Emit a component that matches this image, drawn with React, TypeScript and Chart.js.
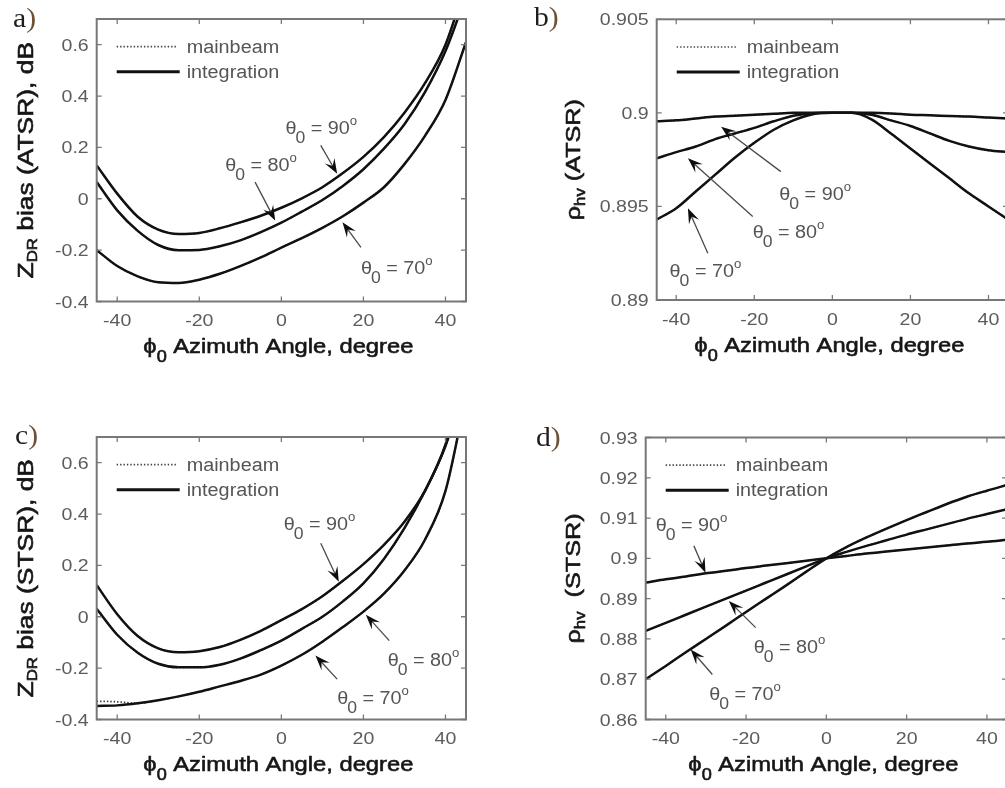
import React, { useEffect, useRef } from "react";
import { Chart, registerables } from "chart.js";

Chart.register(...registerables);

// Azimuth angles (degrees) at which every curve is sampled
const ANGLES = [-45, -40, -35, -30, -25, -20, -15, -10, -5, 0, 5, 10, 15, 20, 25, 30, 35, 40, 45];

// Axis ticks
const X_TICKS = [-40, -20, 0, 20, 40];
const X_TICK_LABELS = ["-40", "-20", "0", "20", "40"];
const ZDR_TICKS = [-0.4, -0.2, 0, 0.2, 0.4, 0.6];
const ZDR_TICK_LABELS = ["-0.4", "-0.2", "0", "0.2", "0.4", "0.6"];
const RHO_ATSR_TICKS = [0.89, 0.895, 0.9, 0.905];
const RHO_ATSR_TICK_LABELS = ["0.89", "0.895", "0.9", "0.905"];
const RHO_STSR_TICKS = [0.86, 0.87, 0.88, 0.89, 0.9, 0.91, 0.92, 0.93];
const RHO_STSR_TICK_LABELS = ["0.86", "0.87", "0.88", "0.89", "0.9", "0.91", "0.92", "0.93"];

// a) ZDR bias, ATSR mode (dB)
const ZDR_ATSR_90 = [0.13, 0.02, -0.07, -0.12, -0.137, -0.133, -0.115, -0.092, -0.066, -0.035, 0.002, 0.045, 0.1, 0.163, 0.24, 0.335, 0.45, 0.6, 0.84];
const ZDR_ATSR_80 = [0.065, -0.045, -0.125, -0.18, -0.2, -0.199, -0.185, -0.162, -0.13, -0.093, -0.05, -0.005, 0.05, 0.115, 0.195, 0.29, 0.415, 0.575, 0.79];
const ZDR_ATSR_70 = [-0.2, -0.262, -0.302, -0.325, -0.328, -0.315, -0.292, -0.262, -0.228, -0.19, -0.153, -0.113, -0.068, -0.015, 0.045, 0.135, 0.245, 0.385, 0.61];

// b) rho_hv, ATSR mode
const RHO_ATSR_90 = [0.89955, 0.8996, 0.8997, 0.8998, 0.89985, 0.8999, 0.89995, 0.9, 0.9, 0.9, 0.9, 0.9, 0.89997, 0.8999, 0.89987, 0.89983, 0.8998, 0.89975, 0.8997];
const RHO_ATSR_80 = [0.89757, 0.8979, 0.8982, 0.8986, 0.8989, 0.8992, 0.89955, 0.89985, 0.89998, 0.9, 0.9, 0.8999, 0.8996, 0.8993, 0.8989, 0.8985, 0.8982, 0.898, 0.8979];
const RHO_ATSR_70 = [0.8943, 0.8949, 0.8958, 0.8967, 0.8976, 0.8984, 0.8991, 0.8996, 0.89993, 0.9, 0.9, 0.89965, 0.8989, 0.8981, 0.8973, 0.8965, 0.8957, 0.895, 0.8943];

// c) ZDR bias, STSR mode (dB)
const ZDR_STSR_90 = [0.123, 0.01, -0.075, -0.123, -0.138, -0.134, -0.118, -0.09, -0.055, -0.013, 0.03, 0.08, 0.14, 0.205, 0.28, 0.37, 0.49, 0.67, 0.95];
const ZDR_STSR_80 = [0.031, -0.07, -0.14, -0.183, -0.197, -0.197, -0.187, -0.163, -0.13, -0.093, -0.047, 0.0, 0.06, 0.13, 0.225, 0.345, 0.49, 0.665, 0.92];
const ZDR_STSR_70 = [-0.347, -0.345, -0.337, -0.325, -0.31, -0.292, -0.271, -0.25, -0.225, -0.19, -0.148, -0.097, -0.04, 0.02, 0.09, 0.18, 0.3, 0.49, 0.86];
const ZDR_STSR_70_MAINBEAM = [-0.329, -0.331, -0.337, -0.325, -0.31, -0.292, -0.271, -0.25, -0.225, -0.19, -0.148, -0.097, -0.04, 0.02, 0.09, 0.18, 0.3, 0.49, 0.86];

// d) rho_hv, STSR mode
const RHO_STSR_90 = [0.894, 0.8948, 0.8955, 0.8963, 0.8969, 0.8976, 0.8982, 0.8988, 0.8994, 0.9, 0.9006, 0.9012, 0.9017, 0.9022, 0.9027, 0.9032, 0.9037, 0.9041, 0.9046];
const RHO_STSR_80 = [0.882, 0.884, 0.886, 0.888, 0.89, 0.892, 0.894, 0.896, 0.898, 0.9, 0.9016, 0.9031, 0.9045, 0.9059, 0.9072, 0.9085, 0.9098, 0.911, 0.9122];
const RHO_STSR_70 = [0.87, 0.8733, 0.8767, 0.88, 0.8833, 0.8867, 0.89, 0.8933, 0.8967, 0.9, 0.9028, 0.9052, 0.9074, 0.9095, 0.9115, 0.9135, 0.9153, 0.9168, 0.9182];

const SANS = '"Liberation Sans", Arial, sans-serif';
const SERIF = '"Liberation Serif", "Times New Roman", serif';

type Seg = { t: string; s: number; dy?: number; dx?: number };

// Draws a run of text pieces (with sub/superscripts), widened along the baseline
function drawSegs(
  ctx: CanvasRenderingContext2D,
  segs: Seg[],
  x: number,
  y: number,
  align: "left" | "center" | "right",
  stretch: number,
  color: string,
  family = SANS,
  weight = 0
) {
  ctx.save();
  ctx.fillStyle = color;
  ctx.strokeStyle = color;
  ctx.textAlign = "left";
  ctx.textBaseline = "alphabetic";
  const widths = segs.map((sg) => {
    ctx.font = `${sg.s}px ${family}`;
    return ctx.measureText(sg.t).width * stretch + (sg.dx || 0);
  });
  const total = widths.reduce((a, b) => a + b, 0);
  let cx = align === "left" ? x : align === "center" ? x - total / 2 : x - total;
  segs.forEach((sg, i) => {
    ctx.font = `${sg.s}px ${family}`;
    ctx.save();
    ctx.translate(cx + (sg.dx || 0), y + (sg.dy || 0));
    ctx.scale(stretch, 1);
    ctx.fillText(sg.t, 0, 0);
    if (weight > 0) {
      ctx.lineWidth = weight;
      ctx.strokeText(sg.t, 0, 0);
    }
    ctx.restore();
    cx += widths[i];
  });
  ctx.restore();
}

type Note = { deg: string; text: [number, number]; tail: [number, number]; tip: [number, number] };

type PanelSpec = {
  tag: string;
  left: number;
  top: number;
  width: number;
  height: number;
  padding: { left: number; top: number; right: number; bottom: number };
  yMin: number;
  yMax: number;
  yTicks: number[];
  yTickLabels: string[];
  yTitle: Seg[];
  yTitleX: number;
  tagPos: [number, number];
  curves: { integ: number[]; main: number[] }[];
  notes: Note[];
};

function arrow(ctx: CanvasRenderingContext2D, x0: number, y0: number, x1: number, y1: number) {
  const dx = x1 - x0;
  const dy = y1 - y0;
  const len = Math.hypot(dx, dy);
  const ux = dx / len;
  const uy = dy / len;
  const nx = -uy;
  const ny = ux;
  const L = 15;
  const W = 11;
  ctx.save();
  ctx.strokeStyle = "#4a4a4a";
  ctx.lineWidth = 1.3;
  ctx.beginPath();
  ctx.moveTo(x0, y0);
  ctx.lineTo(x1 - ux * 7, y1 - uy * 7);
  ctx.stroke();
  ctx.fillStyle = "#0e0e0e";
  ctx.beginPath();
  ctx.moveTo(x1, y1);
  ctx.lineTo(x1 - ux * L + nx * W / 2, y1 - uy * L + ny * W / 2);
  ctx.lineTo(x1 - ux * L * 0.6, y1 - uy * L * 0.6);
  ctx.lineTo(x1 - ux * L - nx * W / 2, y1 - uy * L - ny * W / 2);
  ctx.closePath();
  ctx.fill();
  ctx.restore();
}

function framePlugin(spec: PanelSpec) {
  return {
    id: "frame-" + spec.tag,
    afterDraw(chart: any) {
      const ctx: CanvasRenderingContext2D = chart.ctx;
      const ca = chart.chartArea;
      const xs = chart.scales.x;
      const ys = chart.scales.y;
      ctx.save();

      // inward tick marks on all four sides
      ctx.strokeStyle = "#7a7a7a";
      ctx.lineWidth = 1.3;
      ctx.beginPath();
      X_TICKS.forEach((v) => {
        const px = xs.getPixelForValue(v);
        ctx.moveTo(px, ca.bottom);
        ctx.lineTo(px, ca.bottom - 5);
        ctx.moveTo(px, ca.top);
        ctx.lineTo(px, ca.top + 5);
      });
      spec.yTicks.forEach((v) => {
        const py = ys.getPixelForValue(v);
        ctx.moveTo(ca.left, py);
        ctx.lineTo(ca.left + 5, py);
        ctx.moveTo(ca.right, py);
        ctx.lineTo(ca.right - 5, py);
      });
      ctx.stroke();

      // axes box
      ctx.strokeStyle = "#777";
      ctx.lineWidth = 2;
      ctx.strokeRect(ca.left, ca.top, ca.right - ca.left, ca.bottom - ca.top);

      // tick labels
      const tickColor = "#5c5c5c";
      X_TICKS.forEach((v, i) => {
        drawSegs(ctx, [{ t: X_TICK_LABELS[i], s: 17 }], xs.getPixelForValue(v), ca.bottom + 24.5, "center", 1.15, tickColor);
      });
      spec.yTicks.forEach((v, i) => {
        drawSegs(ctx, [{ t: spec.yTickLabels[i], s: 17 }], ca.left - 8, ys.getPixelForValue(v) + 6, "right", 1.15, tickColor);
      });

      // x axis title
      drawSegs(
        ctx,
        [
          { t: "ϕ", s: 21 },
          { t: "0", s: 16, dy: 9 },
          { t: " Azimuth Angle, degree", s: 21 },
        ],
        (ca.left + ca.right) / 2 - 3,
        ca.bottom + 51.5,
        "center",
        1.13,
        "#161616",
        SANS,
        0.6
      );

      // y axis title
      ctx.save();
      ctx.translate(spec.yTitleX, (ca.top + ca.bottom) / 2);
      ctx.rotate(-Math.PI / 2);
      drawSegs(ctx, spec.yTitle, 0, 0, "center", 1.2, "#161616", SANS, 0.6);
      ctx.restore();

      // legend
      ctx.save();
      ctx.strokeStyle = "#444";
      ctx.lineWidth = 1.7;
      ctx.setLineDash([1.4, 2]);
      ctx.beginPath();
      ctx.moveTo(ca.left + 20, ca.top + 27.7);
      ctx.lineTo(ca.left + 80, ca.top + 27.7);
      ctx.stroke();
      ctx.setLineDash([]);
      ctx.strokeStyle = "#111";
      ctx.lineWidth = 3;
      ctx.beginPath();
      ctx.moveTo(ca.left + 20, ca.top + 52.7);
      ctx.lineTo(ca.left + 83, ca.top + 52.7);
      ctx.stroke();
      ctx.restore();
      drawSegs(ctx, [{ t: "mainbeam", s: 18 }], ca.left + 90, ca.top + 33.5, "left", 1.1, "#555");
      drawSegs(ctx, [{ t: "integration", s: 18 }], ca.left + 90, ca.top + 58.8, "left", 1.1, "#555");

      // elevation annotations
      spec.notes.forEach((n) => {
        arrow(
          ctx,
          xs.getPixelForValue(n.tail[0]),
          ys.getPixelForValue(n.tail[1]),
          xs.getPixelForValue(n.tip[0]),
          ys.getPixelForValue(n.tip[1])
        );
        drawSegs(
          ctx,
          [
            { t: "θ", s: 18 },
            { t: "0", s: 16, dy: 9, dx: -1 },
            { t: " = " + n.deg, s: 18 },
            { t: "o", s: 12, dy: -9 },
          ],
          xs.getPixelForValue(n.text[0]),
          ys.getPixelForValue(n.text[1]),
          "left",
          1.1,
          "#555"
        );
      });

      // panel tag
      drawSegs(ctx, [{ t: spec.tag, s: 27 }], spec.tagPos[0], spec.tagPos[1], "left", 1.1, "#1e1e1e", SERIF);
      ctx.save();
      ctx.font = `27px ${SERIF}`;
      const tw = ctx.measureText(spec.tag).width * 1.1;
      ctx.restore();
      drawSegs(ctx, [{ t: ")", s: 27 }], spec.tagPos[0] + tw, spec.tagPos[1], "left", 1.1, "#6e5236", SERIF);
      ctx.restore();
    },
  };
}

const PANELS: PanelSpec[] = [
  {
    tag: "a",
    left: 0,
    top: 0,
    width: 490,
    height: 390,
    padding: { left: 96.7, top: 19, right: 24, bottom: 88.5 },
    yMin: -0.4,
    yMax: 0.7,
    yTicks: ZDR_TICKS,
    yTickLabels: ZDR_TICK_LABELS,
    yTitle: [
      { t: "Z", s: 22 },
      { t: "DR", s: 14, dy: 4 },
      { t: " bias (ATSR), dB", s: 22 },
    ],
    yTitleX: 33,
    tagPos: [13, 27],
    curves: [
      { integ: ZDR_ATSR_90, main: ZDR_ATSR_90 },
      { integ: ZDR_ATSR_80, main: ZDR_ATSR_80 },
      { integ: ZDR_ATSR_70, main: ZDR_ATSR_70 },
    ],
    notes: [
      { deg: "90", text: [1.0, 0.253], tail: [9.6, 0.208], tip: [13.6, 0.097] },
      { deg: "80", text: [-13.7, 0.11], tail: [-6.4, 0.065], tip: [-1.5, -0.085] },
      { deg: "70", text: [19.4, -0.292], tail: [19.4, -0.189], tip: [14.9, -0.091] },
    ],
  },
  {
    tag: "b",
    left: 500,
    top: 0,
    width: 520,
    height: 390,
    padding: { left: 156.7, top: 19.3, right: 12, bottom: 90 },
    yMin: 0.89,
    yMax: 0.905,
    yTicks: RHO_ATSR_TICKS,
    yTickLabels: RHO_ATSR_TICK_LABELS,
    yTitle: [
      { t: "ρ", s: 21 },
      { t: "hv", s: 14, dy: 5 },
      { t: " (ATSR)", s: 21 },
    ],
    yTitleX: 80,
    tagPos: [34, 26],
    curves: [
      { integ: RHO_ATSR_90, main: RHO_ATSR_90 },
      { integ: RHO_ATSR_80, main: RHO_ATSR_80 },
      { integ: RHO_ATSR_70, main: RHO_ATSR_70 },
    ],
    notes: [
      { deg: "90", text: [-13.6, 0.89535], tail: [-13.2, 0.89686], tip: [-28.5, 0.89926] },
      { deg: "80", text: [-20.4, 0.8933], tail: [-20.4, 0.89446], tip: [-37, 0.89757] },
      { deg: "70", text: [-41.7, 0.89125], tail: [-31.9, 0.8925], tip: [-37, 0.8949] },
    ],
  },
  {
    tag: "c",
    left: 0,
    top: 390,
    width: 490,
    height: 398,
    padding: { left: 96.7, top: 47, right: 24, bottom: 68.5 },
    yMin: -0.4,
    yMax: 0.7,
    yTicks: ZDR_TICKS,
    yTickLabels: ZDR_TICK_LABELS,
    yTitle: [
      { t: "Z", s: 22 },
      { t: "DR", s: 14, dy: 4 },
      { t: " bias (STSR), dB", s: 22 },
    ],
    yTitleX: 33,
    tagPos: [15, 54],
    curves: [
      { integ: ZDR_STSR_90, main: ZDR_STSR_90 },
      { integ: ZDR_STSR_80, main: ZDR_STSR_80 },
      { integ: ZDR_STSR_70, main: ZDR_STSR_70_MAINBEAM },
    ],
    notes: [
      { deg: "90", text: [0.57, 0.339], tail: [9.6, 0.286], tip: [14, 0.136] },
      { deg: "80", text: [25.9, -0.19], tail: [26.3, -0.093], tip: [20.6, 0.008] },
      { deg: "70", text: [13.6, -0.341], tail: [13.6, -0.243], tip: [8.3, -0.151] },
    ],
  },
  {
    tag: "d",
    left: 500,
    top: 390,
    width: 520,
    height: 398,
    padding: { left: 145.7, top: 47.5, right: 13, bottom: 68.5 },
    yMin: 0.86,
    yMax: 0.93,
    yTicks: RHO_STSR_TICKS,
    yTickLabels: RHO_STSR_TICK_LABELS,
    yTitle: [
      { t: "ρ", s: 21 },
      { t: "hv", s: 14, dy: 5 },
      { t: "  (STSR)", s: 21 },
    ],
    yTitleX: 80,
    tagPos: [36, 56],
    curves: [
      { integ: RHO_STSR_90, main: RHO_STSR_90 },
      { integ: RHO_STSR_80, main: RHO_STSR_80 },
      { integ: RHO_STSR_70, main: RHO_STSR_70 },
    ],
    notes: [
      { deg: "90", text: [-42.5, 0.9068], tail: [-33, 0.9031], tip: [-30.1, 0.89645] },
      { deg: "80", text: [-18.1, 0.87657], tail: [-17.6, 0.8828], tip: [-24.3, 0.88942] },
      { deg: "70", text: [-29.2, 0.86496], tail: [-28.4, 0.87118], tip: [-33.8, 0.87739] },
    ],
  },
];

function Panel({ spec }: { spec: PanelSpec }) {
  const ref = useRef<HTMLCanvasElement>(null);
  useEffect(() => {
    const canvas = ref.current;
    if (!canvas) return;
    const datasets: any[] = [];
    spec.curves.forEach((c) => {
      datasets.push({
        label: "integration",
        data: ANGLES.map((x, i) => ({ x, y: c.integ[i] })),
        borderColor: "#111",
        borderWidth: 2.5,
        pointRadius: 0,
        fill: false,
      });
      datasets.push({
        label: "mainbeam",
        data: ANGLES.map((x, i) => ({ x, y: c.main[i] })),
        borderColor: "#333",
        borderWidth: 1.7,
        borderDash: [1.4, 2],
        pointRadius: 0,
        fill: false,
      });
    });
    const chart = new Chart(canvas, {
      type: "line",
      data: { datasets },
      options: {
        animation: false,
        responsive: false,
        maintainAspectRatio: false,
        devicePixelRatio: 1,
        events: [],
        layout: { padding: spec.padding },
        plugins: {
          legend: { display: false },
          tooltip: { enabled: false },
          title: { display: false },
        },
        elements: {
          point: { radius: 0 },
          line: { cubicInterpolationMode: "monotone" },
        },
        scales: {
          x: { type: "linear", min: -45, max: 45, display: false },
          y: { type: "linear", min: spec.yMin, max: spec.yMax, display: false },
        },
      } as any,
      plugins: [framePlugin(spec)],
    });
    return () => chart.destroy();
  }, [spec]);
  return (
    <canvas
      ref={ref}
      width={spec.width}
      height={spec.height}
      style={{ position: "absolute", left: spec.left, top: spec.top, width: spec.width, height: spec.height }}
    />
  );
}

export default function App() {
  return (
    <div
      style={{
        position: "absolute",
        left: 0,
        top: 0,
        width: 1005,
        height: 788,
        overflow: "hidden",
        background: "#fff",
      }}
    >
      {PANELS.map((p) => (
        <Panel key={p.tag} spec={p} />
      ))}
    </div>
  );
}
